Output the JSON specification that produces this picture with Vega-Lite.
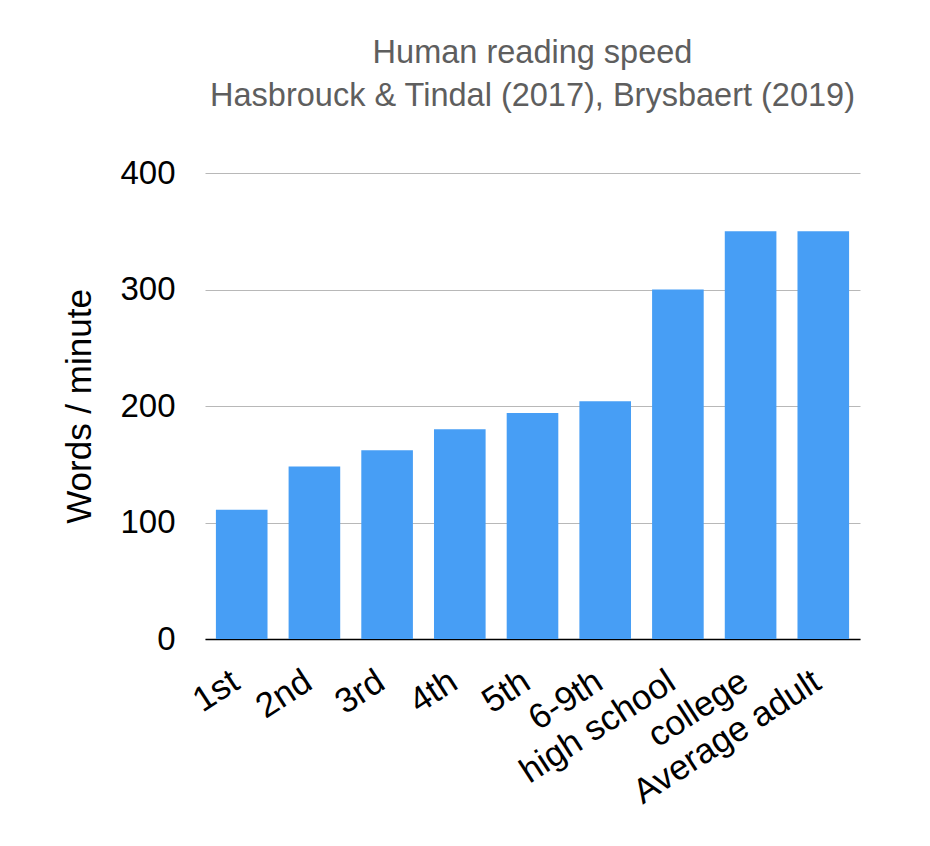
{
  "$schema": "https://vega.github.io/schema/vega-lite/v6.json",
  "width": 655,
  "height": 466,
  "autosize": {"type": "none"},
  "padding": {"left": 205, "top": 173, "right": 70, "bottom": 207},
  "background": "white",
  "title": {
    "text": ["Human reading speed", "Hasbrouck & Tindal (2017), Brysbaert (2019)"],
    "font": "Liberation Sans",
    "fontSize": 32.5,
    "fontWeight": "normal",
    "color": "#5e5e5e",
    "anchor": "middle",
    "frame": "group",
    "lineHeight": 43,
    "offset": 45
  },
  "data": {
    "values": [
      {"level": "1st", "wpm": 111},
      {"level": "2nd", "wpm": 148},
      {"level": "3rd", "wpm": 162},
      {"level": "4th", "wpm": 180},
      {"level": "5th", "wpm": 194},
      {"level": "6-9th", "wpm": 204},
      {"level": "high school", "wpm": 300},
      {"level": "college", "wpm": 350},
      {"level": "Average adult", "wpm": 350}
    ]
  },
  "mark": {"type": "bar", "color": "#479ef5"},
  "encoding": {
    "x": {
      "field": "level",
      "type": "nominal",
      "sort": null,
      "scale": {"paddingInner": 0.29, "paddingOuter": 0.15},
      "axis": {
        "title": null,
        "labelAngle": -33,
        "labelFontSize": 35,
        "labelFont": "Liberation Sans",
        "labelColor": "black",
        "labelAlign": "right",
        "labelBaseline": "alphabetic",
        "labelPadding": 48,
        "labelDx": 5,
        "labelOverlap": false,
        "labelLimit": 400,
        "ticks": false,
        "domainColor": "black",
        "domainWidth": 1.5
      }
    },
    "y": {
      "field": "wpm",
      "type": "quantitative",
      "scale": {"domain": [0, 400]},
      "axis": {
        "values": [0, 100, 200, 300, 400],
        "title": "Words / minute",
        "titleFont": "Liberation Sans",
        "titleFontSize": 35,
        "titleFontWeight": "normal",
        "titleColor": "black",
        "titlePadding": 22,
        "labelFont": "Liberation Sans",
        "labelFontSize": 33,
        "labelColor": "black",
        "labelPadding": 30,
        "ticks": false,
        "domain": false,
        "gridColor": "#b8b8b8",
        "gridWidth": 1
      }
    }
  },
  "config": {"view": {"stroke": null}}
}
